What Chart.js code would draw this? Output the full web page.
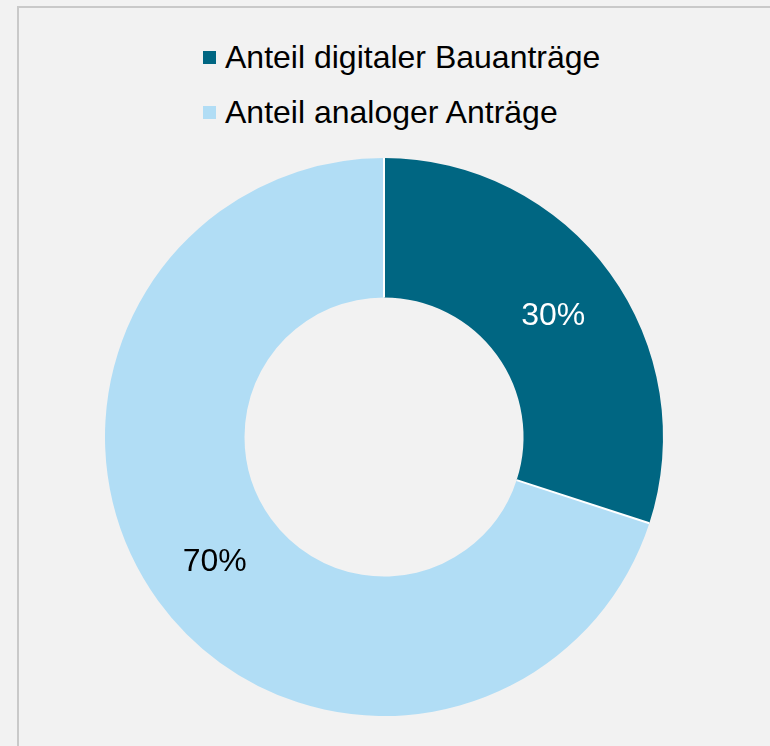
<!DOCTYPE html>
<html lang="de">
<head>
<meta charset="UTF-8">
<title>Anteil digitaler Bauanträge</title>
<script src="https://cdn.jsdelivr.net/npm/chart.js"></script>
<style>
    html, body { margin: 0; padding: 0; background: #f2f2f2; overflow: hidden; }
    body { width: 770px; height: 746px; position: relative; font-family: "Liberation Sans", Arial, sans-serif; }
    #frame {
        position: absolute; left: 17px; top: 6px; width: 900px; height: 900px;
        border-left: 2px solid #c9c9c9; border-top: 2px solid #c9c9c9;
    }
    #legend { position: absolute; left: 203px; top: 30px; }
    .item { display: flex; align-items: center; height: 55px; font-size: 32px; color: #000; }
    .item .box { width: 13px; height: 13px; margin-right: 9px; }
    #wrap { position: absolute; left: 0; top: 158px; width: 768px; height: 558px; }
</style>
</head>
<body>
<div id="frame"></div>
<div id="legend"></div>
<div id="wrap"><canvas id="donut"></canvas></div>

<script>
    const labels = ['Anteil digitaler Bauanträge', 'Anteil analoger Anträge'];
    const shares = [30, 70];
    const colors = ['#006682', '#b1ddf5'];
    const labelColors = ['#ffffff', '#000000'];

    // legend, stacked and left-aligned
    const legend = document.getElementById('legend');
    labels.forEach((text, i) => {
        const row = document.createElement('div');
        row.className = 'item';
        row.innerHTML = '<span class="box" style="background:' + colors[i] + '"></span><span></span>';
        row.lastChild.textContent = text;
        legend.appendChild(row);
    });

    // white separators between segments (no outline on the ring edges)
    // plus percentage labels in the middle of each segment
    const sliceLabels = {
        id: 'sliceLabels',
        afterDatasetsDraw(chart) {
            const ctx = chart.ctx;
            const meta = chart.getDatasetMeta(0);
            ctx.save();
            ctx.strokeStyle = '#ffffff';
            ctx.lineWidth = 2;
            meta.data.forEach(arc => {
                const a = arc.startAngle;
                ctx.beginPath();
                ctx.moveTo(arc.x + Math.cos(a) * arc.innerRadius, arc.y + Math.sin(a) * arc.innerRadius);
                ctx.lineTo(arc.x + Math.cos(a) * arc.outerRadius, arc.y + Math.sin(a) * arc.outerRadius);
                ctx.stroke();
            });
            ctx.font = '32px "Liberation Sans", Arial, sans-serif';
            ctx.textAlign = 'center';
            ctx.textBaseline = 'middle';
            meta.data.forEach((arc, i) => {
                const p = arc.tooltipPosition();
                ctx.fillStyle = labelColors[i];
                ctx.fillText(shares[i] + '%', p.x, p.y + 2);
            });
            ctx.restore();
        }
    };

    new Chart(document.getElementById('donut'), {
        type: 'doughnut',
        data: {
            labels: labels,
            datasets: [{
                data: shares,
                backgroundColor: colors,
                borderWidth: 0
            }]
        },
        options: {
            responsive: true,
            maintainAspectRatio: false,
            animation: false,
            cutout: '50%',
            layout: { padding: 0 },
            plugins: {
                legend: { display: false },
                tooltip: { enabled: false }
            }
        },
        plugins: [sliceLabels]
    });
</script>
</body>
</html>
